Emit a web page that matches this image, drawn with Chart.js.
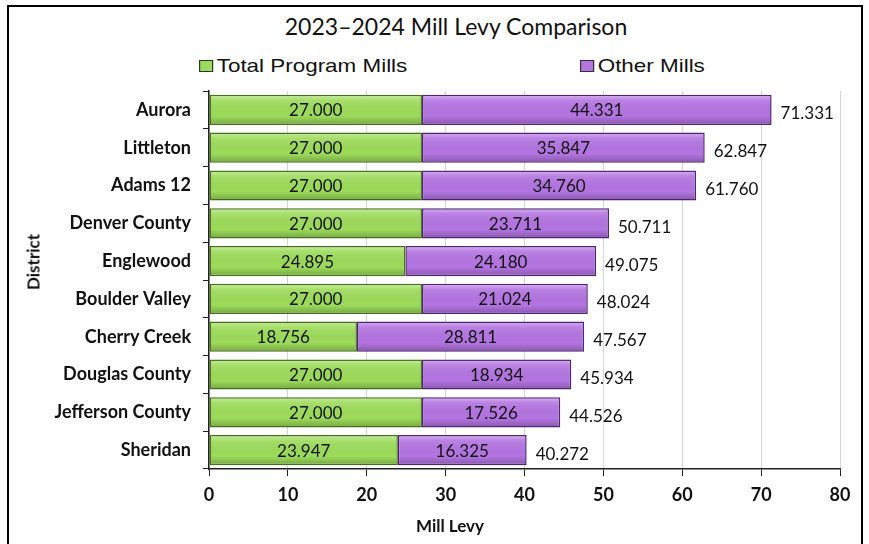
<!DOCTYPE html>
<html>
<head>
<meta charset="utf-8">
<script src="https://cdn.jsdelivr.net/npm/chart.js@4/dist/chart.umd.min.js"></script>
<style>
  html, body { margin: 0; padding: 0; background: #fff; }
  #wrap { position: relative; width: 869px; height: 544px; overflow: hidden; }
  #frame { position: absolute; left: 7px; top: 5px; width: 856px; height: 545px; border: 2px solid #000; box-sizing: border-box; }
  #title { position: absolute; left: 0; width: 912px; top: 12px; text-align: center; font-family: Lato, sans-serif; font-size: 23px; color: #111; }
  .leg { position: absolute; top: 55px; font-family: "Liberation Sans", Arial, sans-serif; font-size: 19px; color: #111;
    transform: scaleX(1.18); transform-origin: left center; white-space: nowrap; }
  .leg i { display: inline-block; width: 10px; height: 10px; margin-right: 3px; border: 1px solid #333; vertical-align: 0px; }
  .axt { position: absolute; font-family: Lato, sans-serif; font-size: 17px; font-weight: bold; color: #111; white-space: nowrap; }
  canvas { position: absolute; left: 0; top: 0; }
</style>
</head>
<body>
<div id="wrap">
  <div id="frame"></div>
  <div id="title">2023–2024 Mill Levy Comparison</div>
  <div class="leg" style="left:199px"><i style="background:#9ddc5a"></i>Total Program Mills</div>
  <div class="leg" style="left:580px"><i style="background:#b475e2"></i>Other Mills</div>
  <canvas id="chart" width="869" height="544"></canvas>
  <div class="axt" style="left:33px; top:262px; transform: translate(-50%, -50%) rotate(-90deg);">District</div>
  <div class="axt" style="left:450px; top:525px; transform: translate(-50%, -50%);">Mill Levy</div>
</div>
<script>
// district data
const districts = ['Aurora', 'Littleton', 'Adams 12', 'Denver County', 'Englewood',
  'Boulder Valley', 'Cherry Creek', 'Douglas County', 'Jefferson County', 'Sheridan'];
const programMills = [27.000, 27.000, 27.000, 27.000, 24.895, 27.000, 18.756, 27.000, 27.000, 23.947];
const otherMills = [44.331, 35.847, 34.760, 23.711, 24.180, 21.024, 28.811, 18.934, 17.526, 16.325];
const totalMills = [71.331, 62.847, 61.760, 50.711, 49.075, 48.024, 47.567, 45.934, 44.526, 40.272];
const xTicks = [0, 10, 20, 30, 40, 50, 60, 70, 80];

const FONT = 'Lato, sans-serif';

// bevel shading over bars, then value labels and totals
const labelPlugin = {
  id: 'barLabels',
  afterDatasetsDraw(chart) {
    const ctx = chart.ctx;
    ctx.save();
    chart.data.datasets.forEach((ds, i) => {
      chart.getDatasetMeta(i).data.forEach(bar => {
        const top = bar.y - bar.height / 2, h = bar.height;
        const g = ctx.createLinearGradient(0, top, 0, top + h);
        g.addColorStop(0, 'rgba(255,255,255,0.45)');
        g.addColorStop(0.18, 'rgba(255,255,255,0.1)');
        g.addColorStop(0.7, 'rgba(0,0,0,0)');
        g.addColorStop(1, 'rgba(0,0,0,0.25)');
        ctx.fillStyle = g;
        ctx.fillRect(Math.min(bar.base, bar.x) + 1.5, top + 1.5, Math.abs(bar.x - bar.base) - 3, h - 3);
      });
    });
    ctx.fillStyle = '#111';
    ctx.textBaseline = 'middle';
    chart.data.datasets.forEach((ds, i) => {
      const meta = chart.getDatasetMeta(i);
      meta.data.forEach((bar, j) => {
        ctx.font = '17px ' + FONT;
        ctx.textAlign = 'center';
        ctx.fillText(ds.data[j].toFixed(3), (bar.x + bar.base) / 2, bar.y + 1);
        if (i === 1) {
          ctx.textAlign = 'left';
          ctx.fillText(totalMills[j].toFixed(3), bar.x + 9, bar.y + 4);
        }
      });
    });
    ctx.restore();
  }
};

new Chart(document.getElementById('chart'), {
  type: 'bar',
  data: {
    labels: districts,
    datasets: [{
      label: 'Total Program Mills',
      data: programMills,
      backgroundColor: '#9ddc5a',
      borderColor: '#456f1c',
      borderWidth: 1.5,
      borderSkipped: false
    }, {
      label: 'Other Mills',
      data: otherMills,
      backgroundColor: '#b475e2',
      borderColor: '#4f2573',
      borderWidth: 1.5,
      borderSkipped: false
    }]
  },
  options: {
    indexAxis: 'y',
    responsive: false,
    animation: false,
    barPercentage: 0.8,
    categoryPercentage: 1,
    layout: { padding: { left: 20, right: 29, top: 91, bottom: 10 } },
    plugins: {
      legend: { display: false },
      title: { display: false },
      tooltip: { enabled: false }
    },
    scales: {
      x: {
        stacked: true,
        min: 0,
        max: 80,
        afterBuildTicks: axis => { axis.ticks = xTicks.map(v => ({ value: v })); },
        grid: { color: '#d6d6d6', tickColor: '#222', tickLength: 7 },
        border: { color: '#222', width: 1.5 },
        ticks: { color: '#111', padding: 8, font: { family: FONT, size: 18, weight: 'bold' } },
        afterFit: axis => { axis.height = 65; }
      },
      y: {
        stacked: true,
        grid: { drawOnChartArea: false, tickColor: '#222', tickLength: 6 },
        border: { color: '#222', width: 1.5 },
        ticks: { color: '#111', padding: 12, font: { family: FONT, size: 18, weight: 'bold' } },
        afterFit: axis => { axis.width = 189; }
      }
    }
  },
  plugins: [labelPlugin]
});
</script>
</body>
</html>
